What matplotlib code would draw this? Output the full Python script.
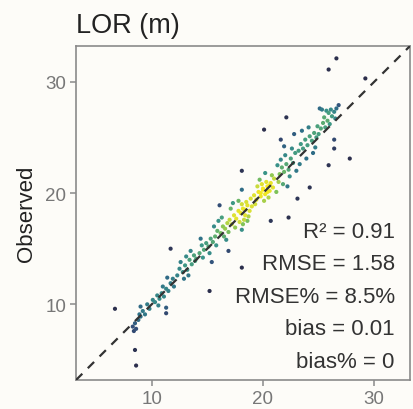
import numpy as np
import matplotlib
matplotlib.use('Agg')
import matplotlib.pyplot as plt
from matplotlib.colors import LinearSegmentedColormap

plt.rcParams['font.family'] = ['Liberation Sans', 'DejaVu Sans']

# predicted (x) / observed (y) pairs
outlier_x = [26.6, 25.9, 29.2, 22.1, 20.1, 21.6, 26.4, 26.4, 27.8, 25.9, 24.2, 18.1, 18.1,
             23.1, 20.7, 22.3, 18.1, 16.9, 18.1, 15.4, 11.7, 15.2, 11.3, 11.3, 6.7, 8.5, 8.6]
outlier_y = [32.1, 31.1, 30.3, 26.8, 25.7, 24.8, 24.8, 24.0, 23.1, 22.5, 20.5, 22.0, 20.3,
             19.5, 17.5, 17.8, 16.7, 14.8, 13.3, 13.8, 15.0, 11.2, 9.7, 9.2, 9.6, 5.9, 4.5]

cluster_x = [
    8.3, 8.5, 8.6, 8.8, 9.0, 9.2, 9.0, 9.4, 9.6, 9.8, 8.9, 8.4,
    10.1, 10.3, 10.5, 10.7, 10.9, 11.1, 11.3, 11.0, 11.5, 11.7, 11.9, 11.4, 10.6, 12.0,
    12.3, 12.5, 12.8, 13.0, 13.2, 13.4, 13.1, 13.6, 13.8, 12.9, 13.3, 13.9, 12.6, 13.5, 14.0,
    14.3, 14.5, 14.7, 14.9, 15.1, 15.3, 15.5, 15.7, 15.9, 14.6, 15.2, 15.8, 16.0, 15.6, 14.4,
    16.2, 16.4, 16.6, 16.8, 17.0, 17.2, 16.5, 16.9, 17.4, 17.6, 17.8, 17.1, 16.3, 17.5, 16.7, 17.9, 16.1, 17.3,
    18.0, 18.2, 18.4, 18.6, 18.3, 18.5, 18.8, 18.1, 18.7, 18.9, 18.4, 18.6, 18.2, 17.8, 19.0,
    19.2, 19.4, 19.6, 19.8, 20.0, 20.2, 20.4, 20.6, 20.3, 19.9, 20.7, 20.1, 19.5, 20.9, 21.0,
    19.7, 20.5, 21.2, 20.8, 19.3, 20.2, 21.4, 20.4, 20.0, 20.6, 19.8,
    21.5, 21.7, 21.9, 22.1, 22.3, 21.6, 22.0, 22.5, 22.7, 22.9, 21.8, 22.4, 22.2, 21.3, 23.0, 22.6, 21.9,
    23.2, 23.4, 23.6, 23.8, 24.0, 24.2, 24.4, 24.6, 23.5, 24.1, 24.8, 23.3, 24.5, 24.7, 23.9, 22.8, 24.9,
    25.0, 25.2, 25.4, 25.6, 25.8, 26.0, 26.2, 26.4, 26.6, 26.1, 25.7, 25.3, 25.1, 25.9, 26.5, 26.8, 25.5,
]
cluster_y = [
    8.0, 8.3, 7.8, 8.6, 8.9, 9.4, 9.8, 9.1, 10.0, 9.6, 9.1, 7.6,
    10.4, 10.2, 10.8, 10.5, 11.0, 10.7, 11.4, 11.6, 11.2, 11.9, 12.3, 12.4, 9.9, 11.6,
    12.6, 13.2, 12.9, 13.5, 13.1, 14.0, 14.3, 13.6, 14.4, 12.3, 12.6, 13.9, 13.8, 14.8, 14.1,
    14.6, 15.3, 14.9, 15.5, 15.2, 15.9, 15.6, 16.1, 16.6, 14.2, 14.6, 15.3, 17.5, 17.0, 15.9,
    16.4, 17.0, 16.8, 17.3, 17.6, 17.2, 16.1, 16.5, 18.0, 17.7, 18.4, 18.6, 17.8, 16.9, 15.8, 17.4, 18.9, 19.1,
    18.2, 18.6, 18.0, 18.9, 17.6, 19.2, 18.4, 19.0, 17.9, 19.5, 18.5, 17.5, 17.2, 19.3, 18.8,
    19.8, 19.4, 20.1, 19.7, 20.4, 19.9, 20.6, 20.2, 21.0, 20.8, 20.9, 19.3, 20.6, 20.5, 21.3,
    21.2, 19.6, 20.1, 21.6, 19.0, 21.8, 21.0, 20.1, 20.3, 20.7, 20.0,
    21.7, 22.3, 21.9, 22.6, 22.1, 23.0, 23.4, 23.1, 22.7, 23.6, 20.8, 21.5, 20.6, 22.5, 22.0, 24.0, 24.2,
    23.8, 24.4, 24.0, 24.8, 24.3, 25.1, 24.7, 25.4, 25.6, 25.9, 25.0, 22.6, 23.6, 24.1, 23.1, 25.3, 26.0,
    25.3, 25.8, 26.3, 25.9, 26.5, 26.2, 26.9, 27.3, 27.6, 27.5, 27.4, 27.5, 27.6, 27.2, 26.7, 27.9, 26.8,
]

stats_lines = ['R\u00b2 = 0.91', 'RMSE = 1.58', 'RMSE% = 8.5%', 'bias = 0.01', 'bias% = 0']

LIM = (3.2, 33.2)

x = np.array(outlier_x + cluster_x)
y = np.array(outlier_y + cluster_y)

# point density for colouring
dx = x[:, None] - x[None, :]
dy = y[:, None] - y[None, :]
dens = np.exp(-(dx ** 2 + dy ** 2) / (2 * 1.0 ** 2)).sum(axis=1)
order = np.argsort(dens)

cmap = LinearSegmentedColormap.from_list(
    'dens', ['#2b2d4a', '#2f3b5e', '#33507a', '#2f7088', '#3a9588', '#7cc15a', '#d8e036', '#f8e81c'])

bg = '#fdfcf8'
fig = plt.figure(figsize=(4.14, 4.10), dpi=100, facecolor=bg)
ax = fig.add_axes([0.1836, 0.0707, 0.8064, 0.8143], facecolor=bg)

ax.plot(LIM, LIM, ls=(0, (4, 3.5)), color='#333333', lw=1.6, zorder=3)
ax.scatter(x[order], y[order], c=dens[order], cmap=cmap, s=9, lw=0, zorder=2)

ax.set_xlim(LIM)
ax.set_ylim(LIM)
ax.set_xticks([10, 20, 30])
ax.set_yticks([10, 20, 30])
for s in ax.spines.values():
    s.set_color('#8a8a8a')
    s.set_linewidth(1.2)
ax.tick_params(colors='#8a8a8a', labelcolor='#777777', labelsize=13.5,
               length=4, width=1.1, pad=3)

ax.set_ylabel('Observed', fontsize=16, color='#222222', labelpad=6)
ax.set_title('LOR (m)', loc='left', fontsize=19.5, color='#222222', pad=10, x=0.0)

for i, line in enumerate(stats_lines):
    ax.text(0.955, 0.446 - i * 0.0973, line, transform=ax.transAxes,
            ha='right', va='center', fontsize=16, color='#333333')

fig.savefig('out.png', dpi=100, facecolor=bg)
